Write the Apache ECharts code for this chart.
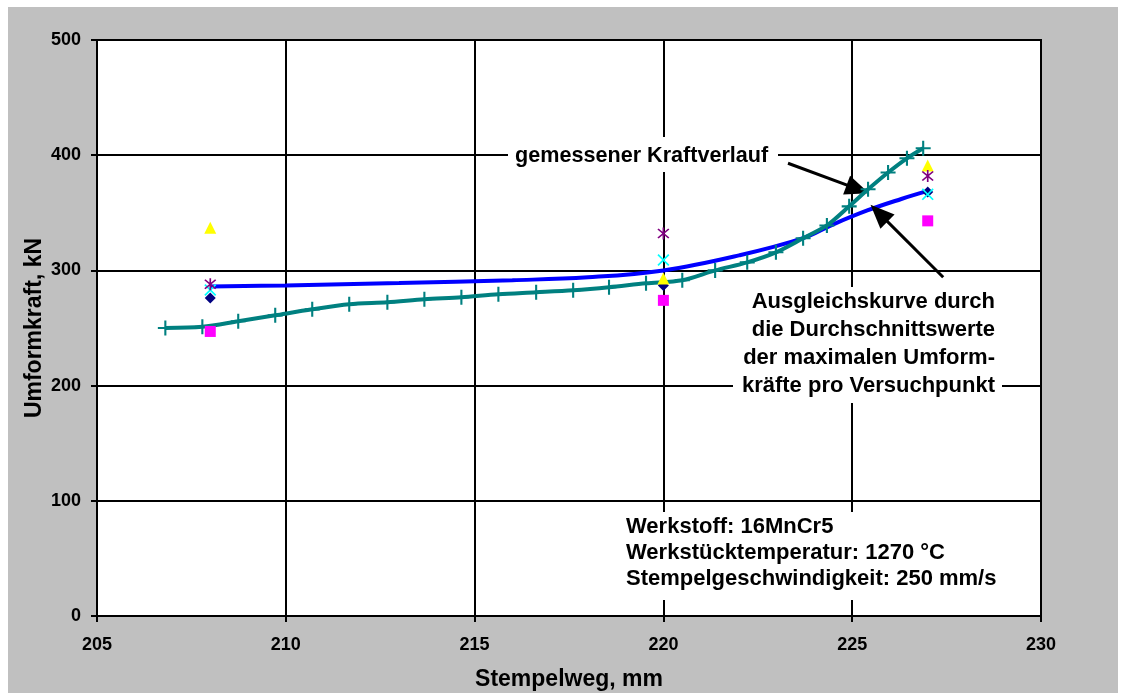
<!DOCTYPE html>
<html>
<head>
<meta charset="utf-8">
<script src="https://cdn.jsdelivr.net/npm/echarts@6/dist/echarts.min.js"></script>
<style>
  html, body { margin: 0; padding: 0; background: #ffffff; }
  #chart { position: absolute; left: 8px; top: 7px; width: 1110px; height: 686px; }
</style>
</head>
<body>
<div id="chart"></div>
<script>
// Stempelweg positions of the test points (mm)
const testPositions = [208, 220, 227];

// Maximum forming forces per trial (kN), one array per trial series
const trialDiamond  = [276, 287, 368];
const trialSquare   = [247, 274, 343];
const trialTriangle = [337, 293, 391];
const trialCross    = [283, 309, 366];
const trialStar     = [288, 332, 382];

// Measured force curve: stroke (mm) and force (kN)
const measuredStroke = [206.81, 207.79, 208.74, 209.72, 210.70, 211.68, 212.69, 213.67, 214.65,
  215.63, 216.63, 217.61, 218.56, 219.54, 220.50, 221.37, 222.22, 222.98, 223.70, 224.33,
  224.92, 225.42, 225.95, 226.45, 226.88];
const measuredForce = [250, 251, 255.8, 261, 266.2, 270.6, 272.3, 274.9, 276.7,
  279.3, 281, 282.8, 285.4, 288.8, 291.4, 300, 307, 315.7, 327.9, 339,
  355.6, 370.4, 385, 397.3, 406];

// Fitted curve through the mean maximum forces
const fitStroke = [208, 210, 213, 216, 218, 220, 222, 223.7, 224.5, 225.4, 226.3, 227];
const fitForce  = [286, 287, 289, 291.5, 294, 300, 313, 328, 340, 352, 362, 369];

// Axis ticks
const xTicks = { min: 205, max: 230, step: 5 };
const yTicks = { min: 0, max: 500, step: 100 };

const FONT = '"Liberation Sans", Arial, sans-serif';

const zip = (a, b) => a.map((v, i) => [v, b[i]]);

const crossPath = 'path://M0,1 L1,0 L5,4 L9,0 L10,1 L6,5 L10,9 L9,10 L5,6 L1,10 L0,9 L4,5 Z';
const starPath = 'path://M0,1 L1,0 L5,4 L9,0 L10,1 L6,5 L10,9 L9,10 L5,6 L1,10 L0,9 L4,5 Z M4.3,-1 L5.7,-1 L5.7,11 L4.3,11 Z';
const plusPath = 'path://M4.3,0 L5.7,0 L5.7,4.3 L10,4.3 L10,5.7 L5.7,5.7 L5.7,10 L4.3,10 L4.3,5.7 L0,5.7 L0,4.3 L4.3,4.3 Z';

function scatter(name, data, symbol, size, color, z) {
  return {
    name, type: 'scatter', data: zip(testPositions, data),
    symbol, symbolSize: size, itemStyle: { color, opacity: 1 }, z: z || 3,
    silent: true
  };
}

const chart = echarts.init(document.getElementById('chart'), null, { renderer: 'canvas' });

const boxStyle = { fill: '#ffffff' };
const noteFont = 'bold 22px ' + FONT;

chart.setOption({
  backgroundColor: '#C0C0C0',
  animation: false,
  grid: {
    left: 89, top: 33, right: 77, bottom: 77,
    outerBoundsMode: 'none', containLabel: false,
    show: true, backgroundColor: '#ffffff', borderColor: '#000000', borderWidth: 2
  },
  xAxis: {
    type: 'value', min: xTicks.min, max: xTicks.max, interval: xTicks.step,
    name: 'Stempelweg, mm', nameLocation: 'middle', nameGap: 52,
    nameTextStyle: { fontFamily: FONT, fontWeight: 'bold', fontSize: 23, color: '#000' },
    axisLine: { show: true, lineStyle: { color: '#000', width: 2 } },
    axisTick: { show: true, inside: false, length: 6, lineStyle: { color: '#000', width: 2 } },
    axisLabel: { fontFamily: FONT, fontWeight: 'bold', fontSize: 18, color: '#000', margin: 20 },
    splitLine: { show: true, lineStyle: { color: '#000', width: 2 } }
  },
  yAxis: {
    type: 'value', min: yTicks.min, max: yTicks.max, interval: yTicks.step,
    name: 'Umformkraft, kN', nameLocation: 'middle', nameGap: 51, nameMoveOverlap: false,
    nameTextStyle: { fontFamily: FONT, fontWeight: 'bold', fontSize: 23, color: '#000' },
    axisLine: { show: true, lineStyle: { color: '#000', width: 2 } },
    axisTick: { show: true, inside: false, length: 6, lineStyle: { color: '#000', width: 2 } },
    axisLabel: { fontFamily: FONT, fontWeight: 'bold', fontSize: 18, color: '#000', margin: 16 },
    splitLine: { show: true, lineStyle: { color: '#000', width: 2 } }
  },
  series: [
    {
      name: 'Ausgleichskurve', type: 'line', data: zip(fitStroke, fitForce),
      smooth: 0.4, showSymbol: false, symbol: 'none',
      lineStyle: { color: '#0000FF', width: 4 }, z: 4, silent: true,
      markLine: {
        silent: true, animation: false,
        symbol: ['none', 'triangle'], symbolSize: [20, 24],
        label: { show: false },
        lineStyle: { color: '#000', width: 3, type: 'solid' },
        data: [
          [{ coord: [223.3, 393] }, { coord: [225.15, 370.5] }],
          [{ coord: [227.41, 294] }, { coord: [225.71, 349.7] }]
        ]
      }
    },
    {
      name: 'gemessener Kraftverlauf', type: 'line', data: zip(measuredStroke, measuredForce),
      smooth: 0.3, showSymbol: true, symbol: plusPath, symbolSize: 15,
      itemStyle: { color: '#008080' },
      lineStyle: { color: '#008080', width: 4 }, z: 5, silent: true
    },
    scatter('Versuch 1', trialDiamond, 'diamond', 11, '#000080', 6),
    scatter('Versuch 2', trialSquare, 'rect', 11, '#FF00FF', 6),
    scatter('Versuch 3', trialTriangle, 'triangle', 12, '#FFFF00', 6),
    scatter('Versuch 4', trialCross, crossPath, 12, '#00FFFF', 6),
    scatter('Versuch 5', trialStar, starPath, 12, '#800080', 6)
  ],
  graphic: [
    { type: 'rect', shape: { x: 500, y: 130, width: 270, height: 35 }, style: boxStyle, z: 10, silent: true },
    { type: 'text', x: 507, y: 149, z: 11, silent: true,
      style: { text: 'gemessener Kraftverlauf', font: 'bold 21.6px ' + FONT, fill: '#000', verticalAlign: 'middle' } },
    { type: 'rect', shape: { x: 725, y: 280, width: 269, height: 116 }, style: boxStyle, z: 10, silent: true },
    { type: 'text', x: 987, y: 281, z: 11, silent: true,
      style: { text: 'Ausgleichskurve durch\ndie Durchschnittswerte\nder maximalen Umform-\nkräfte pro Versuchpunkt',
        font: noteFont, fill: '#000', align: 'right', lineHeight: 28 } },
    { type: 'rect', shape: { x: 605, y: 505, width: 395, height: 88 }, style: boxStyle, z: 10, silent: true },
    { type: 'text', x: 618, y: 507, z: 11, silent: true,
      style: { text: 'Werkstoff: 16MnCr5\nWerkstücktemperatur: 1270 °C\nStempelgeschwindigkeit: 250 mm/s',
        font: noteFont, fill: '#000', align: 'left', lineHeight: 26 } }
  ]
});
</script>
</body>
</html>
